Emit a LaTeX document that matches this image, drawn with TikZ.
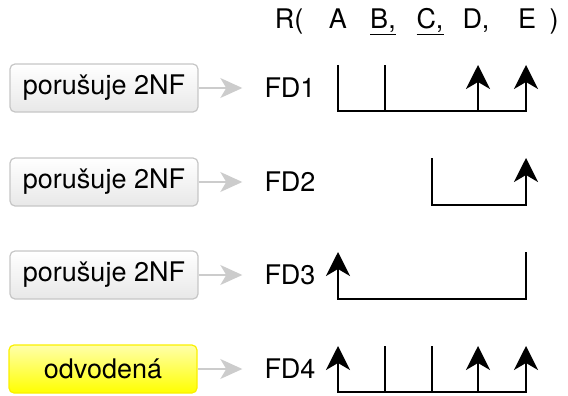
\documentclass[tikz,border=0pt]{standalone}
\usepackage{fontspec}
\setmainfont{TeX Gyre Heros}
\usetikzlibrary{arrows.meta}
\definecolor{derborder}{RGB}{250,240,0}
\definecolor{dertop}{RGB}{255,255,170}
\tikzset{
  nfbox/.style={draw=gray!45, line width=1.2pt, rounded corners=5pt,
    top color=white, bottom color=gray!18,
    minimum width=188pt, minimum height=48pt, inner sep=0pt},
  derbox/.style={nfbox, draw=derborder, top color=dertop, bottom color=yellow},
  fdname/.style={inner sep=2pt},
  toFD/.style={draw=gray!40, line width=1.4pt, shorten >=20pt,
    -{Stealth[length=22pt,width=20pt,inset=6pt]}},
  fdline/.style={line width=2pt},
  fdtip/.tip={Stealth[length=24pt,width=24pt,inset=7pt]}
}
\begin{document}
\begin{tikzpicture}[x=1pt,y=-1pt,font=\fontsize{27pt}{32pt}\selectfont]
\useasboundingbox (0,0) rectangle (568,396);

% schema header
\node[anchor=base] (hR) at (289,29) {R(};
\node[anchor=base] (hA) at (338,29) {A};
\node[anchor=base] (hB) at (383,29) {\underline{B,}};
\node[anchor=base] (hC) at (430,29) {\underline{C,}};
\node[anchor=base] (hD) at (476,29) {D,};
\node[anchor=base] (hE) at (527,29) {E};
\node[anchor=base] (hclose) at (554,29) {)};

% why each dependency is there
\node[nfbox] (why1) at (104,88) {porušuje 2NF\hspace{8pt}};
\node[nfbox] (why2) at (104,182) {porušuje 2NF\hspace{8pt}};
\node[nfbox] (why3) at (104,275) {porušuje 2NF\hspace{8pt}};
\node[derbox] (why4) at (103,369) {odvodená\hspace{11pt}};

\node[fdname] (fd1) at (290,88) {FD1};
\node[fdname] (fd2) at (290,182) {FD2};
\node[fdname] (fd3) at (290,275) {FD3};
\node[fdname] (fd4) at (290,369) {FD4};

\draw[toFD] (why1) -- (fd1);
\draw[toFD] (why2) -- (fd2);
\draw[toFD] (why3) -- (fd3);
\draw[toFD] (why4) -- (fd4);

% FD1: A,B -> D,E
\draw[fdline,-fdtip] (338,65) |- (526,111) -- (526,65);
\draw[fdline] (385,111) -- (385,65);
\draw[fdline,-fdtip] (478,111) -- (478,65);

% FD2: C -> E
\draw[fdline,-fdtip] (432,158) |- (526,205) -- (526,158);

% FD3: E -> A
\draw[fdline,fdtip-] (338,252) |- (526,299) -- (526,252);

% FD4
\draw[fdline,fdtip-fdtip] (338,346) |- (526,392) -- (526,346);
\draw[fdline] (385,392) -- (385,346);
\draw[fdline] (432,392) -- (432,346);
\draw[fdline,-fdtip] (478,392) -- (478,346);

\end{tikzpicture}
\end{document}
